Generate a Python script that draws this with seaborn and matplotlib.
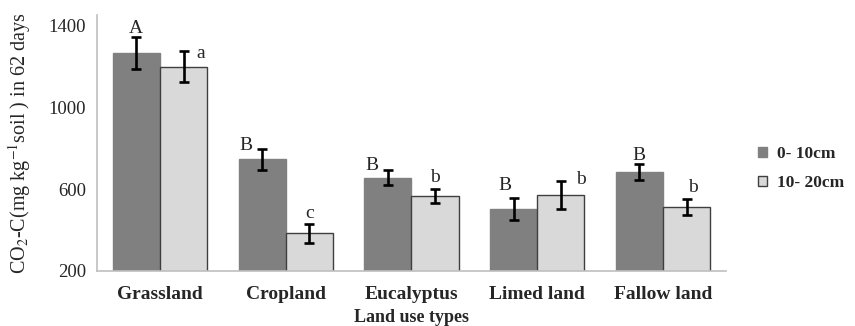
import matplotlib
matplotlib.use("Agg")
import matplotlib.pyplot as plt
import seaborn as sns
import pandas as pd
import numpy as np
from matplotlib.patches import Patch

categories = ["Grassland", "Cropland", "Eucalyptus", "Limed land", "Fallow land"]
depths = ["0- 10cm", "10- 20cm"]
values_0_10 = [1268, 746, 657, 502, 684]
values_10_20 = [1200, 384, 567, 572, 514]
err_0_10 = [77, 52, 35, 55, 40]
err_10_20 = [75, 47, 33, 67, 39]
letters_0_10 = ["A", "B", "B", "B", "B"]
letters_10_20 = ["a", "c", "b", "b", "b"]
yticks = [200, 600, 1000, 1400]

# placement of significance letters (x offset in category units, y offset above error cap)
lab_dx = [[0.0, -0.127, -0.127, -0.067, 0.0], [0.135, 0.0, 0.0, 0.16, 0.05]]
lab_dy = [[21, -8, 1, 41, 17], [-30, 26, 36, -11, 34]]

sns.set_theme(style="white")
plt.rcParams["font.family"] = ["Liberation Serif", "DejaVu Serif"]
plt.rcParams["mathtext.fontset"] = "stix"

df = pd.DataFrame({
    "Land use types": categories * 2,
    "depth": [depths[0]] * 5 + [depths[1]] * 5,
    "value": values_0_10 + values_10_20,
})

fig = plt.figure(figsize=(8.55, 3.26), dpi=100)
ax = fig.add_axes([0.1135, 0.169, 0.7355, 0.786])

colors = ["#808080", "#D9D9D9"]
sns.barplot(data=df, x="Land use types", y="value", hue="depth",
            order=categories, hue_order=depths, palette=colors,
            width=0.75, errorbar=None, ax=ax, legend=False,
            edgecolor="#3F3F3F", linewidth=1.0, saturation=1)

errs = [err_0_10, err_10_20]
vals = [values_0_10, values_10_20]
lets = [letters_0_10, letters_10_20]
bar_conts = list(ax.containers)
for k, cont in enumerate(bar_conts):
    xs = [p.get_x() + p.get_width() / 2 for p in cont.patches]
    if k == 0:
        for p in cont.patches:
            p.set_edgecolor("#808080")
    ax.errorbar(xs, vals[k], yerr=errs[k], fmt="none", ecolor="black",
                elinewidth=1.9, capsize=3.3, capthick=1.9)
    for i, x in enumerate(xs):
        top = vals[k][i] + errs[k][i]
        ax.text(x + lab_dx[k][i], top + lab_dy[k][i], lets[k][i],
                ha="center", va="baseline", fontsize=14)

ax.set_ylim(200, 1455)
ax.set_xlim(-0.5, 4.5)
ax.set_yticks(yticks)
ax.set_yticklabels([str(t) for t in yticks], fontsize=13.5)
ax.set_xticks(range(len(categories)))
ax.set_xticklabels(categories, fontsize=14, fontweight="bold")
ax.set_xticks(np.arange(-0.5, 5.0, 1.0), minor=True)
ax.tick_params(axis="x", which="major", length=0, pad=11)
ax.tick_params(axis="x", which="minor", length=5, color="#A0A0A0", direction="out")
ax.tick_params(axis="y", which="major", length=5, color="#A0A0A0", direction="out", pad=3)

for s in ["top", "right"]:
    ax.spines[s].set_visible(False)
for s in ["left", "bottom"]:
    ax.spines[s].set_color("#BFBFBF")
    ax.spines[s].set_linewidth(1.2)

ax.set_xlabel("Land use types", fontsize=13, fontweight="bold")
ax.xaxis.set_label_coords(0.5, -0.2)
ax.xaxis.label.set_va("baseline")
ax.set_ylabel(r"CO$_2$-C(mg kg$^{-1}$soil ) in 62 days", fontsize=14.5)
ax.yaxis.set_label_coords(-0.1225, 0.5)
ax.yaxis.label.set_va("center")

handles = [Patch(facecolor=colors[0], edgecolor="#808080", label=depths[0]),
           Patch(facecolor=colors[1], edgecolor="#3F3F3F", label=depths[1])]
leg = fig.legend(handles=handles, loc="center left", bbox_to_anchor=(0.868, 0.482),
                 frameon=False, prop={"weight": "bold", "size": 12.5},
                 handlelength=0.55, handleheight=0.55, handletextpad=0.55,
                 labelspacing=0.75)

fig.savefig("out.png", dpi=100)
